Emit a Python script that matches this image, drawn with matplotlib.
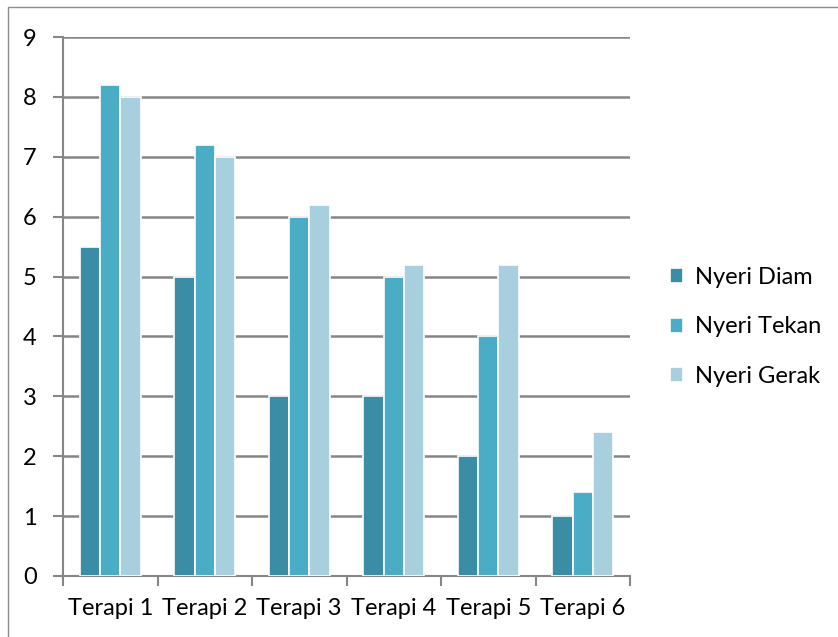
import numpy as np
import matplotlib.pyplot as plt
from matplotlib.patches import Rectangle

categories = ["Terapi 1", "Terapi 2", "Terapi 3", "Terapi 4", "Terapi 5", "Terapi 6"]
nyeri_diam = [5.5, 5.0, 3.0, 3.0, 2.0, 1.0]
nyeri_tekan = [8.2, 7.2, 6.0, 5.0, 4.0, 1.4]
nyeri_gerak = [8.0, 7.0, 6.2, 5.2, 5.2, 2.4]
series_names = ["Nyeri Diam", "Nyeri Tekan", "Nyeri Gerak"]
colors = ["#3B8CA5", "#4BACC6", "#A8CFDE"]

plt.rcParams['font.family'] = ['Lato', 'DejaVu Sans']

W, H = 838, 637
fig = plt.figure(figsize=(W / 100, H / 100), dpi=100)
fig.patches.append(Rectangle((8 / W, -0.5), 2, 1.5 - 7 / H, transform=fig.transFigure,
                             fill=False, edgecolor="#8c8c8c", linewidth=1))

ax = fig.add_axes([63 / W, 1 - 576 / H, (630 - 63) / W, (576 - 37) / H])

x = np.arange(len(categories))
bw = 0.215
for i, (vals, name, c) in enumerate(zip([nyeri_diam, nyeri_tekan, nyeri_gerak], series_names, colors)):
    ax.bar(x + (i - 1) * bw, vals, bw, color=c, edgecolor="white", linewidth=1.2,
           label=name, zorder=3)

fs = 17
ax.set_xlim(-0.5, len(categories) - 0.5)
ax.set_ylim(0, 9)
ax.set_yticks(range(0, 10))
ax.yaxis.grid(True, color="#868686", linewidth=1.8, zorder=0)
ax.set_xticks(x)
ax.set_xticklabels(categories)
ax.set_xticks(np.arange(-0.5, len(categories)), minor=True)
ax.tick_params(axis="x", which="major", length=0, pad=16, labelsize=fs)
ax.tick_params(axis="x", which="minor", length=7, width=1.5, color="#868686")
ax.tick_params(axis="y", length=7, width=1.5, color="#868686", pad=12, labelsize=fs)
for s in ["top", "right"]:
    ax.spines[s].set_visible(False)
for s in ["left", "bottom"]:
    ax.spines[s].set_color("#868686")
    ax.spines[s].set_linewidth(1.5)

ax.legend(loc="center left", bbox_to_anchor=(1.05, 0.462), frameon=False,
          fontsize=fs, handlelength=0.55, handleheight=0.6, handletextpad=0.5,
          labelspacing=1.2, borderpad=0)

fig.savefig("out.png", dpi=100)
